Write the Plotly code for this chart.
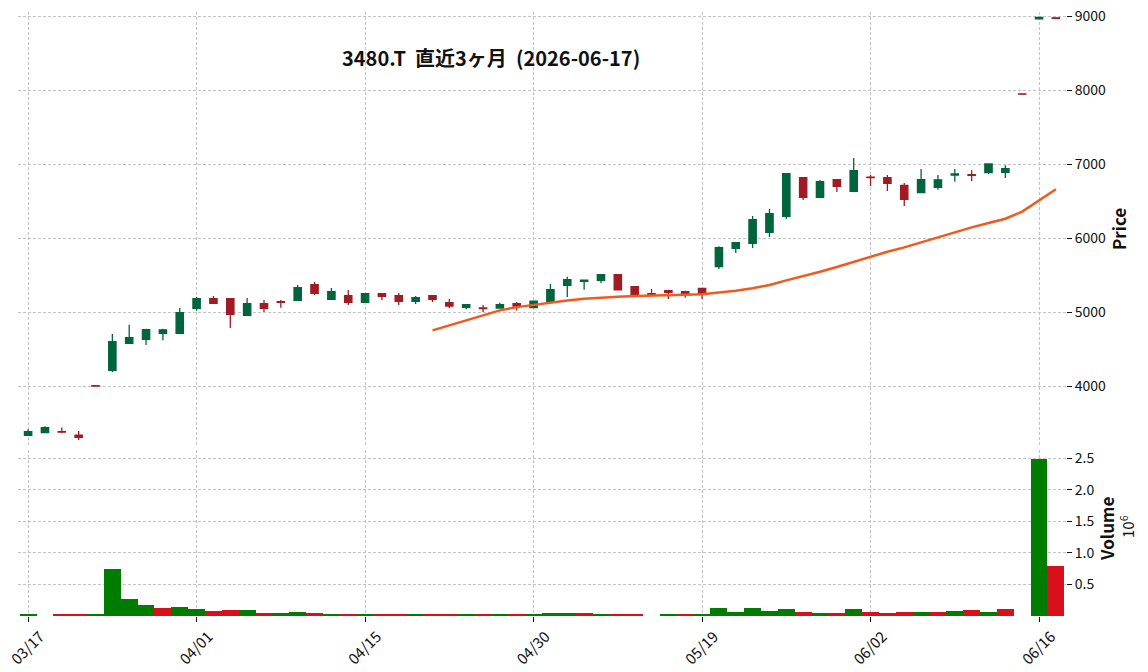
import plotly.graph_objects as go

# ---------------- data ----------------
tick_idx = [0, 10, 20, 30, 40, 50, 60]
tick_labels = ["03/17", "04/01", "04/15", "04/30", "05/19", "06/02", "06/16"]

opens = [3335, 3371, 3385, 3335, 4004, 4213, 4577, 4631, 4712, 4712,
         5050, 5180, 5180, 4955, 5112, 5139, 5157, 5369, 5171, 5220,
         5130, 5247, 5220, 5144, 5220, 5126, 5063, 5054, 5054, 5112,
         5058, 5135, 5360, 5414, 5427, 5504, 5342, 5247, 5288, 5274,
         5318, 5612, 5860, 5928, 6076, 6293, 6815, 6550, 6788, 6631,
         6824, 6815, 6712, 6613, 6685, 6851, 6856, 6883, 6887, 7948,
         8962, 8975]
highs = [3416, 3456, 3438, 3393, 4005, 4703, 4829, 4775, 4775, 5054,
         5207, 5216, 5180, 5189, 5162, 5162, 5364, 5405, 5324, 5297,
         5252, 5247, 5256, 5216, 5220, 5175, 5108, 5094, 5126, 5135,
         5157, 5378, 5477, 5436, 5504, 5504, 5342, 5310, 5288, 5288,
         5318, 5887, 5937, 6297, 6392, 6880, 6815, 6784, 6788, 7081,
         6851, 6851, 6743, 6932, 6851, 6932, 6914, 7009, 6982, 7950,
         8985, 8976]
lows = [3330, 3362, 3362, 3272, 4000, 4190, 4577, 4555, 4618, 4712,
        5018, 5108, 4784, 4955, 5000, 5058, 5157, 5230, 5171, 5094,
        5130, 5162, 5094, 5108, 5135, 5054, 5036, 5000, 5045, 5022,
        5058, 5135, 5202, 5301, 5391, 5301, 5220, 5229, 5175, 5193,
        5175, 5581, 5797, 5865, 6013, 6257, 6513, 6550, 6622, 6617,
        6703, 6635, 6432, 6613, 6653, 6761, 6770, 6865, 6811, 7942,
        8960, 8966]
closes = [3384, 3438, 3378, 3308, 4000, 4600, 4654, 4762, 4760, 4991,
          5180, 5117, 4968, 5112, 5050, 5130, 5328, 5252, 5274, 5130,
          5247, 5211, 5144, 5193, 5171, 5081, 5099, 5045, 5099, 5081,
          5148, 5301, 5436, 5432, 5504, 5301, 5238, 5229, 5265, 5240,
          5245, 5869, 5937, 6248, 6329, 6869, 6550, 6761, 6698, 6910,
          6815, 6739, 6522, 6788, 6786, 6865, 6847, 7000, 6937, 7944,
          8982, 8968]

# volume in millions of shares
volumes = [0.016, 0.0, 0.016, 0.016, 0.016, 0.742, 0.274, 0.177, 0.129, 0.145,
           0.113, 0.081, 0.097, 0.097, 0.048, 0.048, 0.065, 0.048, 0.016, 0.032,
           0.032, 0.032, 0.016, 0.032, 0.016, 0.016, 0.016, 0.032, 0.032, 0.032,
           0.032, 0.048, 0.048, 0.048, 0.016, 0.016, 0.016, 0.0, 0.016, 0.016,
           0.032, 0.129, 0.065, 0.129, 0.081, 0.113, 0.065, 0.048, 0.048, 0.113,
           0.065, 0.048, 0.065, 0.065, 0.065, 0.081, 0.097, 0.065, 0.113, 0.0,
           2.48, 0.79]
# volume direction vs previous close: 1 = up, 0 = down
vol_up = [1, 1, 0, 0, 1, 1, 1, 1, 0, 1,
          1, 0, 0, 1, 0, 1, 1, 0, 1, 0,
          1, 0, 0, 1, 0, 0, 1, 0, 1, 0,
          1, 1, 1, 0, 1, 0, 0, 0, 1, 0,
          1, 1, 1, 1, 1, 1, 0, 1, 0, 1,
          0, 0, 0, 1, 0, 1, 0, 1, 0, 1,
          1, 0]

# 25-day moving average (starts at bar 24)
ma_start = 24
ma25 = [4752, 4818, 4884, 4950, 5022, 5066, 5099, 5130, 5157, 5180,
        5198, 5207, 5216, 5225, 5229, 5234, 5241, 5259, 5286, 5320,
        5365, 5428, 5482, 5545, 5608, 5680, 5748, 5815, 5874, 5941,
        6013, 6081, 6144, 6203, 6261, 6356, 6504, 6658]

price_ticks = [4000, 5000, 6000, 7000, 8000, 9000]
vol_ticks = [0.5, 1.0, 1.5, 2.0, 2.5]
vol_tick_text = ["0.5", "1.0", "1.5", "2.0", "2.5"]

title_text = "3480.T\u00a0\u00a0直近3ヶ月\u00a0\u00a0(2026-06-17)"

# ---------------- styling ----------------
UP = "#00643c"
DOWN = "#a01c24"
VUP = "#007d00"
VDOWN = "#d7101c"
MA_COLOR = "#f05a1e"
GRID = "#c4c4c4"
FONT = "Noto Sans CJK JP"

W, H = 1148, 672
L, R, T, B = 18, 82, 12, 56
PW, PH = W - L - R, H - T - B


def px_x(x):
    return (x - L) / PW


def px_y(y):
    return (H - B - y) / PH


x_idx = list(range(len(opens)))
ma_x = x_idx[ma_start:ma_start + len(ma25)]

fig = go.Figure()

fig.add_trace(go.Candlestick(
    x=x_idx, open=opens, high=highs, low=lows, close=closes,
    increasing=dict(line=dict(color=UP, width=1.3), fillcolor=UP),
    decreasing=dict(line=dict(color=DOWN, width=1.3), fillcolor=DOWN),
    whiskerwidth=0, xaxis="x", yaxis="y", showlegend=False,
))

fig.add_trace(go.Scatter(
    x=ma_x, y=ma25, mode="lines",
    line=dict(color=MA_COLOR, width=2.5),
    xaxis="x", yaxis="y", showlegend=False,
))

fig.add_trace(go.Bar(
    x=x_idx, y=volumes,
    marker=dict(color=[VUP if u else VDOWN for u in vol_up], line=dict(width=0)),
    xaxis="x2", yaxis="y2", showlegend=False,
))

grid_common = dict(showgrid=True, gridcolor=GRID, gridwidth=0.8, griddash="3px,2px",
                   zeroline=False, showline=False, automargin=False)

fig.update_layout(
    width=W, height=H,
    margin=dict(l=L, r=R, t=T, b=B, autoexpand=False),
    paper_bgcolor="white", plot_bgcolor="white",
    font=dict(family=FONT, size=14, color="#111111"),
    boxgap=0.38,
    bargap=0,
    showlegend=False,
    xaxis=dict(domain=[0, 1], anchor="y", range=[-0.6, 61.6],
               tickmode="array", tickvals=tick_idx, showticklabels=False,
               ticks="", rangeslider=dict(visible=False), **grid_common),
    xaxis2=dict(domain=[0, 1], anchor="y2", range=[-0.6, 61.6], matches="x",
                tickmode="array", tickvals=tick_idx, ticktext=tick_labels,
                tickangle=-45, ticks="outside", ticklen=5, tickcolor="#111111",
                ticklabelshift=12, ticklabeloverflow="allow",
                tickfont=dict(size=15), **grid_common),
    yaxis=dict(domain=[px_y(447), 1], anchor="x", side="right",
               range=[3176, 9054], tickmode="array", tickvals=price_ticks,
               ticks="outside", ticklen=5, tickcolor="#111111",
               tickfont=dict(size=14), **grid_common),
    yaxis2=dict(domain=[0, px_y(450)], anchor="x2", side="right",
                range=[0, 2.627], tickmode="array", tickvals=vol_ticks,
                ticktext=vol_tick_text, ticks="outside", ticklen=5,
                tickcolor="#111111", tickfont=dict(size=14), **grid_common),
    annotations=[
        dict(text="<b>" + title_text + "</b>", x=px_x(491), y=px_y(58),
             xref="paper", yref="paper", xanchor="center", yanchor="middle",
             showarrow=False, font=dict(size=20, family=FONT, color="#111111")),
        dict(text="<b>Price</b>", x=px_x(1118), y=px_y(229), textangle=-90,
             xref="paper", yref="paper", xanchor="center", yanchor="middle",
             showarrow=False, font=dict(size=17, family=FONT, color="#111111")),
        dict(text="<b>Volume</b>", x=px_x(1106), y=px_y(529), textangle=-90,
             xref="paper", yref="paper", xanchor="center", yanchor="middle",
             showarrow=False, font=dict(size=17, family=FONT, color="#111111")),
        dict(text="10<sup>6</sup>", x=px_x(1127), y=px_y(527), textangle=-90,
             xref="paper", yref="paper", xanchor="center", yanchor="middle",
             showarrow=False, font=dict(size=15, family=FONT, color="#111111")),
    ],
)

fig.write_html("out.html")
